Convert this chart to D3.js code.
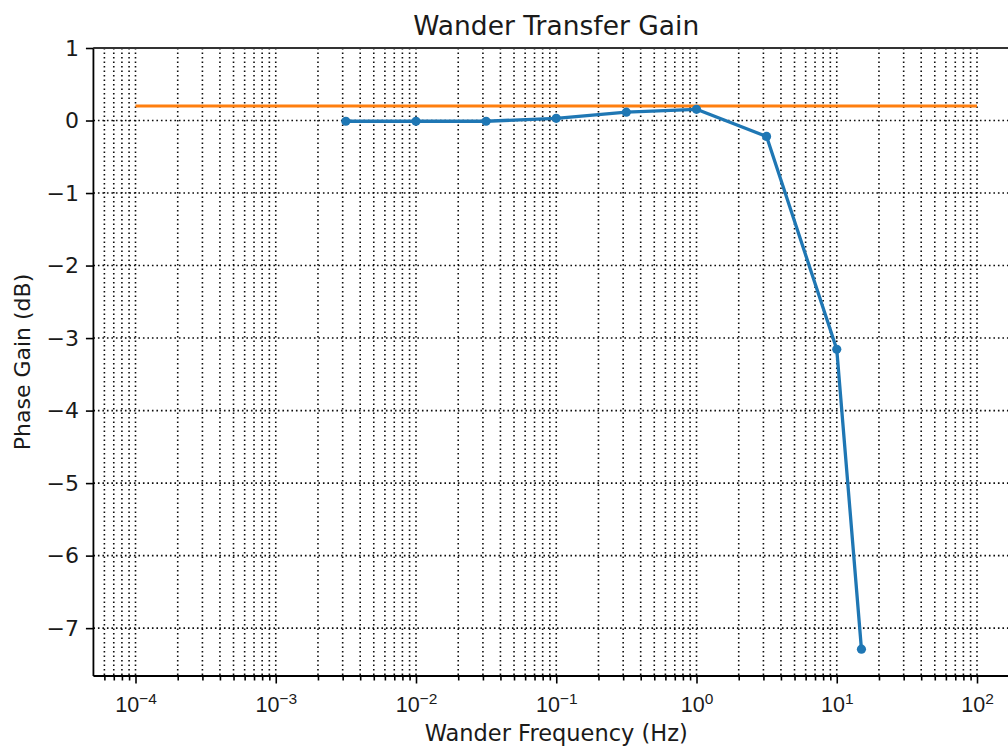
<!DOCTYPE html>
<html>
<head>
<meta charset="utf-8">
<script src="https://cdn.jsdelivr.net/npm/d3@7"></script>
<style>
  html, body { margin: 0; padding: 0; background: #fff; }
  svg { display: block; font-family: "DejaVu Sans", sans-serif; }
</style>
</head>
<body>
<svg id="chart" width="1008" height="751"></svg>
<script>
// ---- data ----
const freqs = [0.00316, 0.01, 0.0316, 0.1, 0.316, 1, 3.16, 10, 15];
const gains = [-0.01, -0.01, -0.01, 0.03, 0.115, 0.155, -0.22, -3.155, -7.29];
const limitFreqs = [1e-4, 1e2];
const limitGains = [0.2, 0.2];
const xMajorExps = [-4, -3, -2, -1, 0, 1, 2];
const yTicks = [1, 0, -1, -2, -3, -4, -5, -6, -7];
const titleText = "Wander Transfer Gain";
const xLabelText = "Wander Frequency (Hz)";
const yLabelText = "Phase Gain (dB)";

// ---- layout ----
const svg = d3.select("#chart");
const x = d3.scaleLog().domain([1e-4, 1e2]).range([135.5, 977]);
const xMin = Math.pow(10, -4.3), xMax = Math.pow(10, 2.3);
const pLeft = x(xMin), pRight = x(xMax);
const pTop = 48, pBottom = 676;
const y = d3.scaleLinear().domain([-7.66, 1]).range([pBottom, pTop]);

// minor ticks
const xMinor = [];
for (let e = -5; e <= 2; e++) {
  for (let m = 2; m <= 9; m++) {
    const v = m * Math.pow(10, e);
    if (v >= xMin && v <= xMax) xMinor.push(v);
  }
}
const xMajor = xMajorExps.map(e => Math.pow(10, e));

// ---- grid ----
const grid = svg.append("g");
const gridStyle = sel => sel.attr("stroke", "#000").attr("stroke-width", 1.6)
  .attr("stroke-dasharray", "1.6,2.9").attr("stroke-opacity", 0.95);
grid.selectAll("line.vx").data(xMinor.concat(xMajor)).join("line")
  .attr("x1", d => x(d)).attr("x2", d => x(d)).attr("y1", pTop).attr("y2", pBottom)
  .call(gridStyle);
grid.selectAll("line.hy").data(yTicks).join("line")
  .attr("x1", pLeft).attr("x2", pRight).attr("y1", d => y(d)).attr("y2", d => y(d))
  .call(gridStyle);

// ---- data lines ----
svg.append("path")
  .datum(limitFreqs.map((f, i) => [f, limitGains[i]]))
  .attr("fill", "none").attr("stroke", "#ff7f0e").attr("stroke-width", 3.2)
  .attr("d", d3.line().x(d => x(d[0])).y(d => y(d[1])));

const pts = freqs.map((f, i) => [f, gains[i]]);
svg.append("path").datum(pts)
  .attr("fill", "none").attr("stroke", "#1f77b4").attr("stroke-width", 3.3)
  .attr("stroke-linejoin", "round")
  .attr("d", d3.line().x(d => x(d[0])).y(d => y(d[1])));
svg.selectAll("circle.pt").data(pts).join("circle")
  .attr("cx", d => x(d[0])).attr("cy", d => y(d[1])).attr("r", 4.6)
  .attr("fill", "#1f77b4");

// ---- axes ----
const xAxisMinor = d3.axisBottom(x).tickValues(xMinor).tickSize(4.5).tickFormat("");
const xAxis = d3.axisBottom(x).tickValues(xMajor).tickSize(7.5).tickPadding(8).tickFormat("");
const gxm = svg.append("g").attr("transform", `translate(0,${pBottom})`).call(xAxisMinor);
const gx = svg.append("g").attr("transform", `translate(0,${pBottom})`).call(xAxis);
[gxm, gx].forEach(g => {
  g.select(".domain").remove();
  g.selectAll(".tick line").attr("stroke", "#000").attr("stroke-width", 1.6);
});
gx.selectAll(".tick text").remove();
gx.selectAll(".tick").append("text")
  .attr("y", 36).attr("fill", "#1a1a1a").attr("text-anchor", "middle")
  .attr("font-size", 21.5)
  .each(function(d) {
    const t = d3.select(this);
    const e = Math.round(Math.log10(d));
    t.append("tspan").text("10");
    t.append("tspan").attr("dy", -8).attr("font-size", 15.5)
      .text(e < 0 ? "\u2212" + (-e) : String(e));
  });

const yAxis = d3.axisLeft(y).tickValues(yTicks).tickSize(7.5).tickPadding(7)
  .tickFormat(d => d < 0 ? "\u2212" + (-d) : String(d));
const gy = svg.append("g").attr("transform", `translate(${pLeft},0)`).call(yAxis);
gy.select(".domain").remove();
gy.selectAll(".tick line").attr("stroke", "#000").attr("stroke-width", 1.6);
gy.selectAll(".tick text").attr("font-size", 22).attr("fill", "#1a1a1a")
  .attr("font-family", "DejaVu Sans");

// spines
const spine = svg.append("g").attr("stroke", "#000").attr("stroke-width", 1.8).attr("fill", "none");
spine.append("line").attr("x1", pLeft).attr("x2", pLeft).attr("y1", pTop).attr("y2", pBottom);
spine.append("line").attr("x1", pLeft).attr("x2", pRight).attr("y1", pTop).attr("y2", pTop).attr("stroke", "#333");
spine.append("line").attr("x1", pLeft).attr("x2", pRight).attr("y1", pBottom).attr("y2", pBottom);
spine.append("line").attr("x1", pRight).attr("x2", pRight).attr("y1", pTop).attr("y2", pBottom);

// ---- texts ----
const cx = (pLeft + pRight) / 2;
svg.append("text").attr("x", cx).attr("y", 35).attr("text-anchor", "middle")
  .attr("font-size", 26.5).attr("fill", "#1a1a1a").text(titleText);
svg.append("text").attr("x", cx).attr("y", 741).attr("text-anchor", "middle")
  .attr("font-size", 22.5).attr("fill", "#1a1a1a").text(xLabelText);
svg.append("text").attr("transform", `translate(30,${(pTop + pBottom) / 2}) rotate(-90)`)
  .attr("text-anchor", "middle").attr("font-size", 22).attr("fill", "#1a1a1a").text(yLabelText);
</script>
</body>
</html>
